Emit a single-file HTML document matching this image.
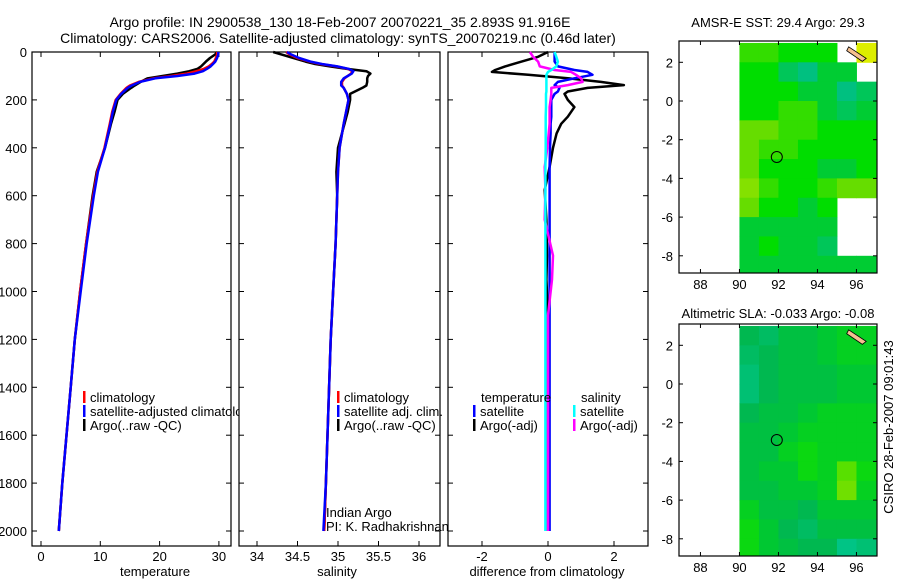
<!DOCTYPE html>
<html><head><meta charset="utf-8"><style>
body{margin:0;background:#fff;}
svg{display:block;font-family:"Liberation Sans",sans-serif;}
text{fill:#000;}
</style></head><body>
<svg id="c" width="900" height="580" viewBox="0 0 900 580">
<defs><clipPath id="clipT"><rect x="32" y="52" width="207" height="494"/></clipPath></defs>
<text x="340" y="27" font-size="14" text-anchor="middle">Argo profile: IN 2900538_130 18-Feb-2007 20070221_35 2.893S 91.916E</text>
<text x="338" y="43" font-size="14" text-anchor="middle">Climatology: CARS2006. Satellite-adjusted climatology: synTS_20070219.nc (0.46d later)</text>
<text x="155" y="576" font-size="13" text-anchor="middle">temperature</text>
<text x="337" y="576" font-size="13" text-anchor="middle">salinity</text>
<text x="547" y="576" font-size="13" text-anchor="middle">difference from climatology</text>
<text x="778" y="27" font-size="13" text-anchor="middle">AMSR-E SST: 29.4  Argo: 29.3</text>
<text x="778" y="318" font-size="13" text-anchor="middle">Altimetric SLA: -0.033  Argo: -0.08</text>
<text transform="translate(893,427) rotate(-90)" font-size="13" text-anchor="middle">CSIRO 28-Feb-2007 09:01:43</text>
<text x="326" y="517" font-size="13">Indian Argo</text>
<text x="326" y="531" font-size="13">PI: K. Radhakrishnan</text>
</svg>
<script>
// ---- profile data ----
const depths = [0,10,25,40,50,60,70,80,90,100,110,125,140,150,175,200,250,300,400,500,600,800,1000,1200,1400,1600,1800,2000];
const tempClim = [29.7,29.7,29.5,29.2,28.8,28.3,27.5,26.2,24.6,22,19,16.5,15,14.4,13.4,12.6,12,11.6,10.7,9.5,8.8,7.6,6.6,5.7,5.0,4.3,3.6,3.0];
const tempSat = [29.9,29.9,29.7,29.4,29.0,28.6,28.0,27.3,25.9,23.0,19.3,16.7,15.3,14.6,13.5,12.7,12.1,11.7,10.8,9.6,8.9,7.7,6.7,5.7,5.0,4.3,3.6,3.0];
const tempArgo = [29.7,29.4,28.5,27.8,27.4,27.0,26.4,25.0,23.0,20.5,18.0,16.8,15.8,15.2,13.8,12.9,12.4,11.8,10.8,9.4,8.7,7.6,6.6,5.7,5.0,4.3,3.6,3.0];
const salClim = [34.36,34.4,34.5,34.65,34.78,34.98,35.12,35.18,35.16,35.12,35.08,35.05,35.05,35.07,35.11,35.13,35.1,35.07,35.02,35.0,34.99,34.97,34.94,34.91,34.89,34.87,34.85,34.83];
const salSat = [34.37,34.42,34.52,34.66,34.8,34.99,35.13,35.19,35.17,35.12,35.07,35.04,35.04,35.07,35.11,35.13,35.1,35.07,35.02,35.0,34.99,34.97,34.94,34.91,34.89,34.87,34.85,34.82];
const salArgo = [34.2,34.3,34.45,34.6,34.72,34.9,35.1,35.35,35.4,35.37,35.36,35.36,35.35,35.3,35.15,35.15,35.12,35.08,35.0,34.98,34.99,34.97,34.94,34.91,34.89,34.87,34.85,34.83];
const diffDepths = [0,20,40,60,75,83,95,110,125,138,150,165,175,200,230,270,300,340,400,480,576,700,850,950,1100,1400,1700,2000];
const tDiffArgo = [0,-0.3,-0.8,-1.3,-1.6,-1.7,-0.6,0.6,1.6,2.3,1.2,0.6,0.5,0.6,0.8,0.6,0.4,0.26,0.15,0.05,-0.1,-0.05,-0.03,-0.05,0,0,0,0];
const tDiffSat = [0.2,0.2,0.2,0.3,0.8,1.2,1.35,0.8,0.3,0.2,0.35,0.3,0.2,0.1,0.1,0.1,0.08,0.08,0.06,0.05,0.05,0.05,0.05,0.05,0.05,0.05,0.05,0.05];
const sDiffArgo = [-0.55,-0.45,-0.3,-0.25,0.2,0.7,0.85,1.0,1.05,0.6,0.1,0.1,0.1,0.08,0.05,0.05,0.05,0.02,-0.02,-0.1,-0.08,-0.1,0.15,0.12,0,0,0,0];
const sDiffSat = [0.2,0.25,0.3,0.25,0.1,0,-0.05,-0.05,-0.05,-0.05,-0.05,-0.05,-0.06,-0.06,-0.06,-0.07,-0.07,-0.07,-0.07,-0.08,-0.08,-0.08,-0.08,-0.08,-0.08,-0.08,-0.08,-0.08];
const depthTicks = [0,200,400,600,800,1000,1200,1400,1600,1800,2000];
const tempTicks = [0,10,20,30];
const salTicks = [34,34.5,35,35.5,36];
const diffTicks = [-2,0,2];
// ---- map data (rows from lat 3 down to -9, cols lon 90..97) ----
const mapLons = [90,91,92,93,94,95,96];
const mapLats = [3,2,1,0,-1,-2,-3,-4,-5,-6,-7,-8];
const sstGrid = [
[29.4,29.4,29.3,29.3,29.3,null,29.9],
[29.3,29.3,29.1,29.0,29.2,29.2,null],
[29.3,29.3,29.3,29.2,29.2,29.0,29.1],
[29.3,29.3,29.4,29.4,29.2,29.1,29.2],
[29.5,29.5,29.4,29.4,29.3,29.3,29.3],
[29.5,29.4,29.4,29.3,29.3,29.3,29.3],
[29.5,29.3,29.3,29.3,29.2,29.2,29.3],
[29.6,29.4,29.3,29.3,29.4,29.5,29.5],
[29.5,29.3,29.3,29.2,29.3,null,null],
[29.2,29.2,29.2,29.2,29.2,null,null],
[29.2,29.3,29.2,29.2,29.1,null,null],
[29.2,29.2,29.2,29.2,29.2,29.2,29.2]];
const slaGrid = [
[-0.05,-0.06,-0.04,-0.04,-0.03,-0.02,-0.02],
[-0.06,-0.05,-0.04,-0.04,-0.03,-0.02,-0.02],
[-0.07,-0.05,-0.04,-0.04,-0.04,-0.03,-0.03],
[-0.07,-0.05,-0.04,-0.04,-0.04,-0.03,-0.03],
[-0.05,-0.04,-0.04,-0.03,-0.02,-0.02,-0.02],
[-0.04,-0.04,-0.03,-0.02,-0.02,-0.02,-0.02],
[-0.04,-0.04,-0.02,-0.01,-0.02,-0.02,-0.02],
[-0.04,-0.03,-0.03,-0.01,-0.02,0.03,-0.01],
[-0.04,-0.04,-0.03,-0.03,-0.02,0.04,-0.02],
[-0.02,-0.04,-0.04,-0.05,-0.03,-0.03,-0.03],
[-0.01,-0.03,-0.05,-0.06,-0.04,-0.04,-0.04],
[-0.01,-0.03,-0.04,-0.05,-0.05,-0.08,-0.07]];
const lonTicks = [88,90,92,94,96];
const latTicks = [2,0,-2,-4,-6,-8];
const floatLon = 91.916, floatLat = -2.893;

const svg = document.getElementById('c');
const NS = 'http://www.w3.org/2000/svg';
function mk(tag, attrs, parent){const e=document.createElementNS(NS,tag);for(const k in attrs)e.setAttribute(k,attrs[k]);(parent||svg).appendChild(e);return e;}
const yDepth = d => 52 + d*0.2395;

function panel(name, x0, x1, xs, ticks, fmt, showY){
  const g = mk('g',{});
  
  
  mk('rect',{x:x0,y:52,width:x1-x0,height:494,fill:'none',stroke:'#000','stroke-width':1.2},g);
  ticks.forEach(t=>{
    const x=xs(t);
    mk('line',{x1:x,y1:546,x2:x,y2:541,stroke:'#000'},g);
    mk('line',{x1:x,y1:52,x2:x,y2:57,stroke:'#000'},g);
    const tx=mk('text',{x:x,y:561,'font-size':13,'text-anchor':'middle'},g);
    
    
    tx.textContent=fmt(t);
  });
  depthTicks.forEach(d=>{
    const y=yDepth(d);
    mk('line',{x1:x0,y1:y,x2:x0+5,y2:y,stroke:'#000'},g);
    mk('line',{x1:x1,y1:y,x2:x1-5,y2:y,stroke:'#000'},g);
    if(showY){
      const tx=mk('text',{x:x0-5,y:y+5,'font-size':13,'text-anchor':'end'},g);
      
      
      tx.textContent=d;
    }
  });
  return g;
}
function line(g, name, ds, vs, xs, color){
  const pts = ds.map((d,i)=>xs(vs[i]).toFixed(1)+','+yDepth(d).toFixed(1)).join(' ');
  const p = mk('polyline',{points:pts,fill:'none',stroke:color,'stroke-width':2.5,'stroke-linejoin':'round'},g);
  
  
}
function legend(g, x, y, color, label, clip){
  mk('rect',{x:x,y:y-11,width:2.5,height:12,fill:color},g);
  const t=mk('text',{x:x+7,y:y,'font-size':13},g);
  if(clip) t.setAttribute('clip-path','url(#clipT)');
  
  
  t.textContent=label;
}

const xT = t => 41 + 5.93*t;
const gT = panel('temperature-panel',32,231,xT,tempTicks,String,true);
line(gT,'temp-argo-line',depths,tempArgo,xT,'#000');
line(gT,'temp-climatology-line',depths,tempClim,xT,'#f00');
line(gT,'temp-satellite-line',depths,tempSat,xT,'#00f');
legend(gT,83,402,'#f00','climatology');
legend(gT,83,416,'#00f','satellite-adjusted climatology',true);
legend(gT,83,430,'#000','Argo(..raw -QC)');

const xS = s => 338 + 81*(s-35);
const gS = panel('salinity-panel',239,440,xS,salTicks,String,false);
line(gS,'sal-argo-line',depths,salArgo,xS,'#000');
line(gS,'sal-climatology-line',depths,salClim,xS,'#f00');
line(gS,'sal-satellite-line',depths,salSat,xS,'#00f');
legend(gS,337,402,'#f00','climatology');
legend(gS,337,416,'#00f','satellite adj. clim.');
legend(gS,337,430,'#000','Argo(..raw -QC)');

const xD = v => 548 + 33*v;
const gD = panel('difference-panel',448,648,xD,diffTicks,String,false);
line(gD,'temp-diff-argo-line',diffDepths,tDiffArgo,xD,'#000');
line(gD,'temp-diff-satellite-line',diffDepths,tDiffSat,xD,'#00f');
line(gD,'sal-diff-argo-line',diffDepths,sDiffArgo,xD,'#f0f');
line(gD,'sal-diff-satellite-line',diffDepths,sDiffSat,xD,'#0ff');
const th=mk('text',{x:481,y:402,'font-size':13},gD);th.textContent='temperature';


const sh=mk('text',{x:581,y:402,'font-size':13},gD);sh.textContent='salinity';


legend(gD,473,416,'#00f','satellite');
legend(gD,473,430,'#000','Argo(-adj)');
legend(gD,573,416,'#0ff','satellite');
legend(gD,573,430,'#f0f','Argo(-adj)');

// ---- maps ----
function colorFor(stops, v){
  if(v<=stops[0][0]) return 'rgb('+stops[0][1].join(',')+')';
  for(let i=1;i<stops.length;i++){
    if(v<=stops[i][0]){
      const a=stops[i-1],b=stops[i],f=(v-a[0])/(b[0]-a[0]);
      const c=a[1].map((x,j)=>Math.round(x+(b[1][j]-x)*f));
      return 'rgb('+c.join(',')+')';
    }
  }
  return 'rgb('+stops[stops.length-1][1].join(',')+')';
}
const sstStops = [[29.0,[0,192,128]],[29.2,[0,204,51]],[29.3,[0,221,0]],[29.5,[102,221,0]],[29.9,[221,238,0]]];
const slaStops = [[-0.09,[0,200,150]],[-0.05,[0,184,80]],[-0.03,[0,200,50]],[0.0,[16,224,0]],[0.04,[112,224,0]]];
function map(name, top, grid, stops){
  const g=mk('g',{});
  
  
  const left=679,right=877,bottom=top+232;
  const xL = lon => 679 + (lon-86.9)*19.5;
  const y0 = top+60;
  const yL = lat => y0 - 19.35*lat;
  grid.forEach((row,r)=>row.forEach((v,c)=>{
    if(v===null) return;
    const x=xL(mapLons[c]), y=Math.max(top,yL(mapLats[r]));
    const yb=Math.min(bottom,yL(mapLats[r]-1));
    const w=Math.min(right,xL(mapLons[c]+1))-x;
    const cell=mk('rect',{x:x,y:y,width:w+0.5,height:yb-y+0.5,fill:colorFor(stops,v)},g);
    
    
  }));
  mk('polygon',{points:(xL(95.6))+','+(yL(2.8))+' '+(xL(96.5))+','+(yL(2.2))+' '+(xL(96.3))+','+(yL(2.05))+' '+(xL(95.5))+','+(yL(2.6)),fill:'#f5c090',stroke:'#000','stroke-width':0.8},g);
  const circ=mk('circle',{cx:xL(floatLon),cy:yL(floatLat),r:5.5,fill:'none',stroke:'#000','stroke-width':1},g);
  
  
  mk('rect',{x:left,y:top,width:right-left,height:232,fill:'none',stroke:'#000','stroke-width':1.2},g);
  lonTicks.forEach(l=>{
    const x=xL(l);
    mk('line',{x1:x,y1:bottom,x2:x,y2:bottom-4,stroke:'#000'},g);
    mk('line',{x1:x,y1:top,x2:x,y2:top+4,stroke:'#000'},g);
    const t=mk('text',{x:x,y:bottom+16,'font-size':13,'text-anchor':'middle'},g);
    
    
    t.textContent=l;
  });
  latTicks.forEach(l=>{
    const y=yL(l);
    mk('line',{x1:left,y1:y,x2:left+4,y2:y,stroke:'#000'},g);
    mk('line',{x1:right,y1:y,x2:right-4,y2:y,stroke:'#000'},g);
    const t=mk('text',{x:left-6,y:y+5,'font-size':13,'text-anchor':'end'},g);
    
    
    t.textContent=l;
  });
}
map('sst-map',41,sstGrid,sstStops);
map('sla-map',324,slaGrid,slaStops);
</script>
</body></html>
